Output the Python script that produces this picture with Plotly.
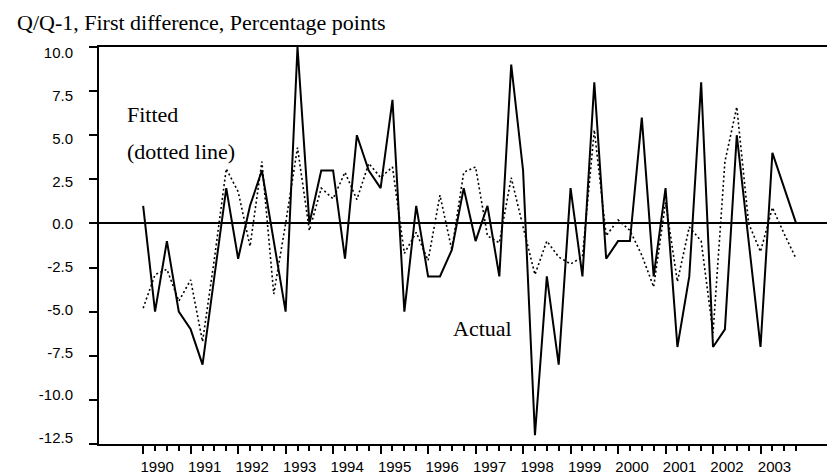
import plotly.graph_objects as go

# ---------------- data ----------------
years = [str(y) for y in range(1990, 2004)]
quarters = [f"{y}Q{q}" for y in range(1990, 2004) for q in range(1, 5)]

actual = [1.0, -5.0, -1.0, -5.0, -6.0, -8.0, -3.0, 2.0,
          -2.0, 1.0, 3.0, -1.0, -5.0, 10.0, 0.0, 3.0,
          3.0, -2.0, 5.0, 3.0, 2.0, 7.0, -5.0, 1.0,
          -3.0, -3.0, -1.5, 2.0, -1.0, 1.0, -3.0, 9.0,
          3.0, -12.0, -3.0, -8.0, 2.0, -3.0, 8.0, -2.0,
          -1.0, -1.0, 6.0, -3.0, 2.0, -7.0, -3.0, 8.0,
          -7.0, -6.0, 5.0, -1.0, -7.0, 4.0, 2.0, 0.0]

fitted = [-4.8, -2.9, -2.6, -4.4, -3.2, -6.7, -2.0, 3.1,
          1.8, -1.3, 3.5, -4.0, 0.0, 4.3, -0.4, 2.0,
          1.4, 2.9, 1.35, 3.4, 2.6, 3.2, -1.7, -0.5,
          -2.1, 1.6, -1.5, 2.9, 3.2, -0.7, -1.1, 2.6,
          -0.2, -2.9, -1.0, -1.9, -2.3, -1.9, 5.3, -0.7,
          0.2, -0.4, -1.8, -3.6, 1.2, -3.3, -0.2, -1.0,
          -6.2, 3.5, 6.6, 0.0, -1.6, 0.9, -0.6, -2.0]

y_ticks = [10.0, 7.5, 5.0, 2.5, 0.0, -2.5, -5.0, -7.5, -10.0, -12.5]

title_text = "Q/Q-1, First difference, Percentage points"
label_fitted_1 = "Fitted"
label_fitted_2 = "(dotted line)"
label_actual = "Actual"

# ---------------- figure ----------------
x = list(range(len(quarters)))
year_ticks = [i for i, q in enumerate(quarters) if q.endswith("Q1")]
minor_ticks = [i for i, q in enumerate(quarters) if not q.endswith("Q1")]

fig = go.Figure()
fig.add_trace(go.Scatter(
    x=x, y=fitted, mode="lines", name="Fitted", customdata=quarters,
    line=dict(color="black", width=1.6, dash="2px,2.6px"),
    hovertemplate="%{customdata}: %{y}<extra>Fitted</extra>"))
fig.add_trace(go.Scatter(
    x=x, y=actual, mode="lines", name="Actual", customdata=quarters,
    line=dict(color="black", width=2),
    hovertemplate="%{customdata}: %{y}<extra>Actual</extra>"))
# invisible helper trace so the label-only overlay axis is rendered
fig.add_trace(go.Scatter(
    x=[x[0]], y=[y_ticks[4]], yaxis="y2", mode="markers",
    marker=dict(opacity=0), hoverinfo="skip", showlegend=False))

serif = "Times New Roman, Liberation Serif, serif"
sans = "Arial, Liberation Sans, Helvetica, sans-serif"

fig.update_layout(
    width=835, height=474,
    margin=dict(l=91, r=2, t=39, b=38),
    paper_bgcolor="white", plot_bgcolor="white",
    showlegend=False,
    xaxis=dict(
        range=[-3.72, 58.61],
        tickmode="array", tickvals=year_ticks, ticktext=years,
        ticks="outside", ticklen=8, tickwidth=1.5, tickcolor="black",
        ticklabelshift=14,
        showline=True, linecolor="black", linewidth=1.5, mirror=True,
        showgrid=False, zeroline=False,
        tickfont=dict(family=sans, size=15, color="black"),
        minor=dict(tickmode="array", tickvals=minor_ticks, ticks="outside",
                   ticklen=5, tickwidth=1.5, tickcolor="black", showgrid=False),
    ),
    yaxis=dict(
        range=[-12.5, 10.0],
        tickmode="array", tickvals=y_ticks,
        ticks="outside", ticklen=8, tickwidth=1.5, tickcolor="black",
        showticklabels=False,
        showline=True, linecolor="black", linewidth=1.5, mirror=True,
        showgrid=False,
        zeroline=True, zerolinecolor="black", zerolinewidth=1.8,
    ),
    yaxis2=dict(
        overlaying="y", side="left",
        range=[-12.85, 10.35],
        tickmode="array", tickvals=y_ticks,
        ticktext=[f"{v:.1f}" for v in y_ticks],
        ticks="outside", ticklen=8, tickcolor="rgba(0,0,0,0)",
        showline=False, showgrid=False, zeroline=False,
        tickfont=dict(family=sans, size=15, color="black"),
        ticklabelstandoff=14,
    ),
    annotations=[
        dict(text=title_text, xref="paper", yref="paper", x=-0.114, y=1.062,
             xanchor="left", yanchor="middle", showarrow=False,
             font=dict(family=serif, size=22, color="black")),
        dict(text=label_fitted_1, xref="paper", yref="paper", x=0.035, y=0.831,
             xanchor="left", yanchor="middle", showarrow=False,
             font=dict(family=serif, size=22, color="black")),
        dict(text=label_fitted_2, xref="paper", yref="paper", x=0.035, y=0.738,
             xanchor="left", yanchor="middle", showarrow=False,
             font=dict(family=serif, size=22, color="black")),
        dict(text=label_actual, xref="paper", yref="paper", x=0.476, y=0.292,
             xanchor="left", yanchor="middle", showarrow=False,
             font=dict(family=serif, size=22, color="black")),
    ],
)

fig.write_html("out.html")
